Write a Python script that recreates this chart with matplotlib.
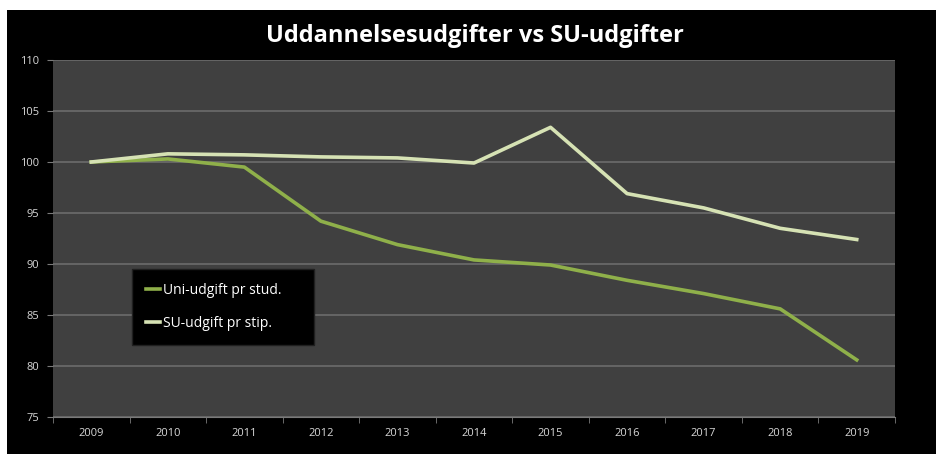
import matplotlib.pyplot as plt
from matplotlib.patches import Rectangle

years = ["2009", "2010", "2011", "2012", "2013", "2014",
         "2015", "2016", "2017", "2018", "2019"]
uni_per_student = [100.0, 100.3, 99.5, 94.2, 91.9, 90.4, 89.9, 88.4, 87.1, 85.6, 80.6]
su_per_stip = [100.0, 100.8, 100.7, 100.5, 100.4, 99.9, 103.4, 96.9, 95.5, 93.5, 92.4]

UNI_COLOR = "#8fb04a"
SU_COLOR = "#d6e2b4"

fig = plt.figure(figsize=(9.36, 4.54), dpi=100, facecolor="white")
# black chart area (white strip on top and left like the screenshot)
fig.patches.append(Rectangle((7 / 936, 0), 1, 1 - 10 / 454, transform=fig.transFigure,
                             facecolor="black", edgecolor="none", zorder=-10))

ax = fig.add_axes([53 / 936, 37 / 454, 842 / 936, 357 / 454])
ax.set_facecolor("#404040")

x = list(range(len(years)))
ax.plot(x, uni_per_student, color=UNI_COLOR, lw=2.6, label="Uni-udgift pr stud.",
        solid_joinstyle="round")
ax.plot(x, su_per_stip, color=SU_COLOR, lw=2.6, label="SU-udgift pr stip.",
        solid_joinstyle="round")

ax.set_xlim(-0.5, len(years) - 0.5)
ax.set_ylim(75, 110)
ax.set_yticks(range(75, 111, 5))
ax.set_xticks(x)
ax.set_xticklabels(years)
ax.set_xticks([i - 0.5 for i in range(len(years) + 1)], minor=True)

ax.grid(axis="y", color="#6c6c6c", lw=1.2)
ax.set_axisbelow(True)
for side in ["top", "right", "left"]:
    ax.spines[side].set_visible(False)
ax.spines["bottom"].set_color("#7a7a7a")

ax.tick_params(axis="x", which="major", length=0, pad=8, labelsize=8, labelcolor="#d8d8d8")
ax.tick_params(axis="x", which="minor", length=4, color="#7a7a7a")
ax.tick_params(axis="y", length=4, color="#7a7a7a", labelsize=8, labelcolor="#d8d8d8", pad=6)

for lab in ax.get_xticklabels() + ax.get_yticklabels():
    lab.set_family("Open Sans")

fig.text(475 / 936, 1 - 36 / 454, "Uddannelsesudgifter vs SU-udgifter", color="white",
         fontsize=17, fontweight="bold", family="Open Sans", ha="center", va="center")

leg = ax.legend(loc="lower left", bbox_to_anchor=(0.094, 0.2017, 0.216, 0.21),
                mode="expand", borderaxespad=0, frameon=True, fancybox=False,
                facecolor="black", edgecolor="#202020", framealpha=1,
                handlelength=1.0, handletextpad=0.2, labelspacing=1.3,
                prop={"family": "Open Sans", "size": 10}, borderpad=1.0)
for t in leg.get_texts():
    t.set_color("white")

fig.savefig("out.png", dpi=100, facecolor="white")
